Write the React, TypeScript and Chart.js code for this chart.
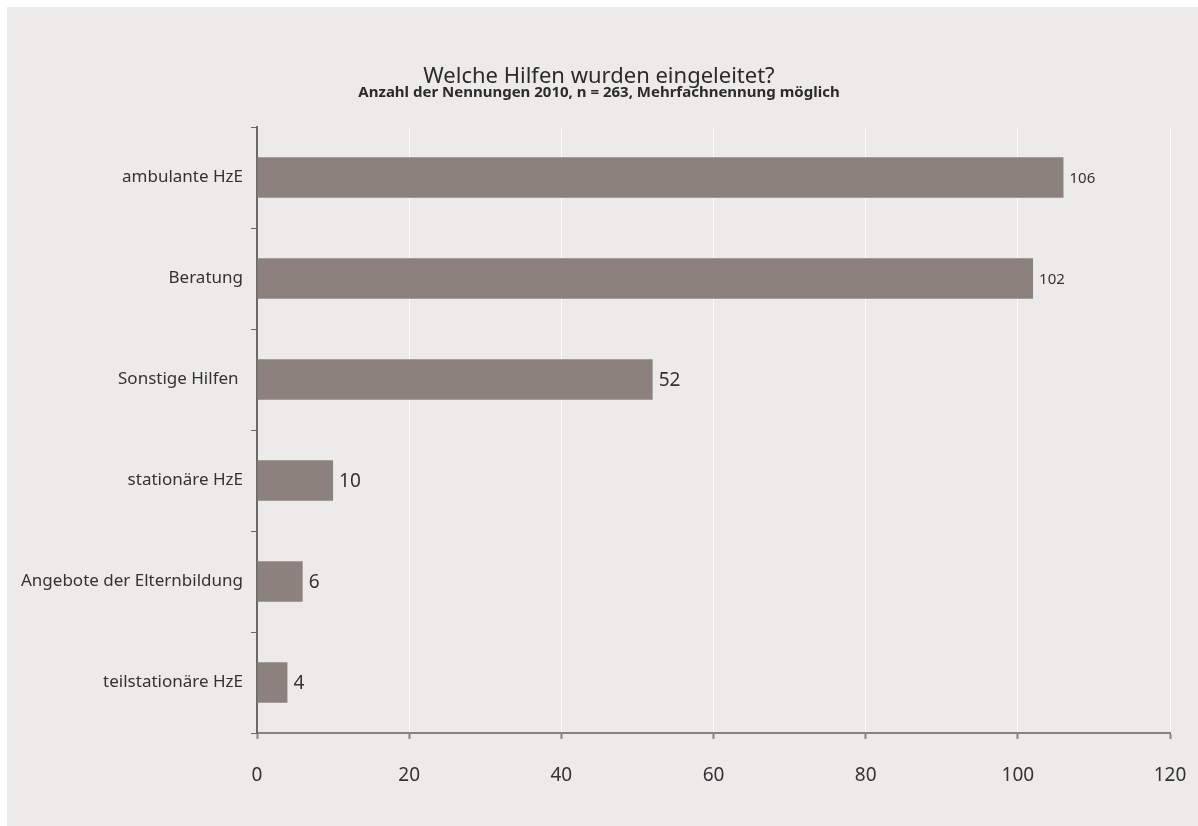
import React, { useEffect, useRef } from "react";
import { Chart, registerables } from "chart.js";

Chart.register(...registerables);

const categories = [
  "ambulante HzE",
  "Beratung",
  "Sonstige Hilfen ",
  "stationäre HzE",
  "Angebote der Elternbildung",
  "teilstationäre HzE",
];
const values = [106, 102, 52, 10, 6, 4];
const xTicks = [0, 20, 40, 60, 80, 100, 120];

const TITLE = "Welche Hilfen wurden eingeleitet?";
const SUBTITLE = "Anzahl der Nennungen 2010, n = 263, Mehrfachnennung möglich";

const FONT = "'Noto Sans', 'Liberation Sans', Arial, sans-serif";

const valueLabels = {
  id: "valueLabels",
  afterDatasetsDraw(chart: any) {
    const ctx = chart.ctx;
    const meta = chart.getDatasetMeta(0);
    ctx.save();
    ctx.fillStyle = "#333333";
    ctx.textAlign = "left";
    ctx.textBaseline = "middle";
    meta.data.forEach((bar: any, i: number) => {
      const v = values[i];
      const size = v >= 100 ? 15 : 19;
      ctx.font = `${size}px ${FONT}`;
      ctx.fillText(String(v), bar.x + 6, bar.y + 1);
    });
    ctx.restore();
  },
};

export default function App() {
  const ref = useRef<HTMLCanvasElement | null>(null);
  useEffect(() => {
    if (!ref.current) return;
    const chart = new Chart(ref.current, {
      type: "bar",
      data: {
        labels: categories,
        datasets: [
          {
            data: values,
            backgroundColor: "#8c817c",
            categoryPercentage: 1,
            barPercentage: 0.4,
          },
        ],
      },
      options: {
        indexAxis: "y",
        animation: false,
        responsive: false,
        maintainAspectRatio: false,
        layout: { padding: { left: 0, right: 7, top: 0, bottom: 41 } },
        plugins: {
          legend: { display: false },
          tooltip: { enabled: false },
          title: {
            display: true,
            text: TITLE,
            color: "#2b2b2b",
            font: { family: FONT, size: 22, weight: "normal", lineHeight: 1.0 },
            padding: { top: 59, bottom: -3 },
          },
          subtitle: {
            display: true,
            text: SUBTITLE,
            color: "#2b2b2b",
            font: { family: FONT, size: 15, weight: "bold", lineHeight: 1.0 },
            padding: { top: 0, bottom: 27 },
          },
        },
        scales: {
          x: {
            type: "linear",
            min: 0,
            max: 120,
            afterBuildTicks: (scale: any) => {
              scale.ticks = xTicks.map((v) => ({ value: v }));
            },
            afterFit: (scale: any) => {
              scale.height = 52;
              scale.paddingLeft = 0;
              scale.paddingRight = 28;
            },
            border: { display: true, color: "#848484", width: 2 },
            grid: {
              display: true,
              drawOnChartArea: true,
              color: "rgba(255,255,255,0.9)",
              lineWidth: 1,
              tickColor: "#848484",
              tickLength: 6,
              tickWidth: 2,
            },
            ticks: {
              color: "#333333",
              padding: 25,
              font: { family: FONT, size: 19 },
            },
          },
          y: {
            afterFit: (scale: any) => {
              scale.width = 250;
            },
            border: { display: true, color: "#6a6a6a", width: 2 },
            grid: {
              display: true,
              drawOnChartArea: false,
              offset: true,
              tickColor: "#6a6a6a",
              tickLength: 6,
              tickWidth: 1,
            },
            ticks: {
              color: "#333333",
              padding: 8,
              font: { family: FONT, size: 17 },
            },
          },
        },
      },
      plugins: [valueLabels],
    } as any);
    return () => chart.destroy();
  }, []);

  return (
    <div
      style={{
        position: "absolute",
        left: 7,
        top: 7,
        width: 1191,
        height: 819,
        background: "#edebe9",
        overflow: "hidden",
      }}
    >
      <canvas ref={ref} width={1191} height={819} style={{ display: "block" }} />
    </div>
  );
}
